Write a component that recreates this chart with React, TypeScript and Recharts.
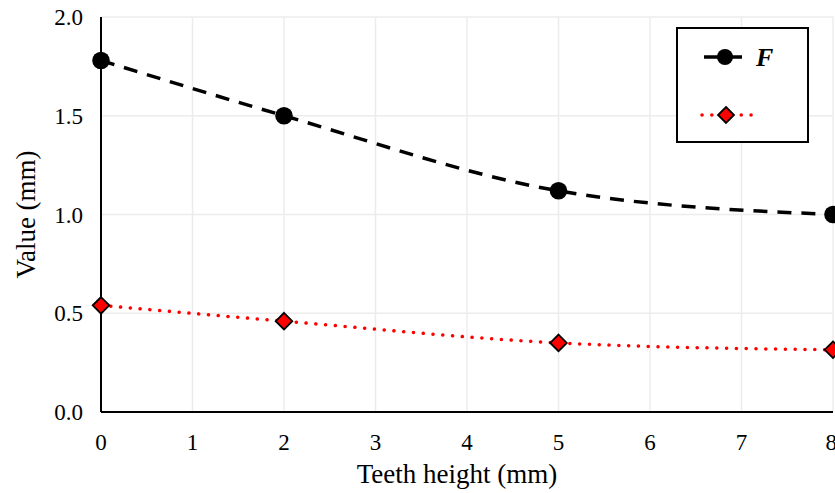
import React from "react";
import { LineChart, Line, XAxis, YAxis, CartesianGrid } from "recharts";

const heights = [0, 2, 5, 8];
const fValues = [1.78, 1.5, 1.12, 1.0];
const secondValues = [0.54, 0.46, 0.35, 0.315];
const xTicks = [0, 1, 2, 3, 4, 5, 6, 7, 8];
const yTicks = [0, 0.5, 1.0, 1.5, 2.0];

const data = heights.map((h, i) => ({ x: h, f: fValues[i], s: secondValues[i] }));

const FONT = "Liberation Serif";
const tickStyle = { fill: "#000", fontSize: 23, style: { fontFamily: FONT, fontSize: 23 } };

const Diamond = (props: any) => {
  const { cx, cy } = props;
  if (cx == null || cy == null) return null;
  const r = 8.3;
  return (
    <polygon
      points={`${cx},${cy - r} ${cx + r},${cy} ${cx},${cy + r} ${cx - r},${cy}`}
      fill="#ff0000"
      stroke="#000"
      strokeWidth={1.8}
    />
  );
};

const Dot = (props: any) => {
  const { cx, cy } = props;
  if (cx == null || cy == null) return null;
  return <circle cx={cx} cy={cy} r={8.8} fill="#000" />;
};

function LegendBox() {
  return (
    <div style={{ position: "absolute", left: 676, top: 27, width: 133, height: 116, border: "2px solid #000", boxSizing: "border-box", background: "#fff" }}>
      <svg width={129} height={112}>
        <line x1={22} y1={28} x2={66} y2={28} stroke="#000" strokeWidth={3.5} strokeDasharray="14 10" strokeDashoffset={-4} />
        <circle cx={47} cy={28} r={8} fill="#000" />
        <text x={78} y={37} style={{ fontFamily: FONT, fontSize: 26, fontStyle: "italic", fontWeight: "bold" }}>F</text>
        <line x1={24} y1={86} x2={76} y2={86} stroke="#ff0000" strokeWidth={3.5} strokeLinecap="round" strokeDasharray="0.1 9.7" />
        <polygon points="48,78 56,86 48,94 40,86" fill="#ff0000" stroke="#000" strokeWidth={1.8} />
      </svg>
    </div>
  );
}

export default function App() {
  return (
    <div style={{ position: "absolute", left: 0, top: 0, width: 835, height: 493, background: "#fff", overflow: "hidden", fontFamily: FONT }}>
      <LineChart width={837} height={493} data={data} margin={{ top: 17, right: 4, left: 0, bottom: 0 }} style={{ fontFamily: FONT }}>
        <CartesianGrid stroke="#ececec" strokeWidth={1.5} verticalValues={xTicks} horizontalValues={yTicks} />
        <XAxis
          type="number"
          dataKey="x"
          domain={[0, 8]}
          ticks={xTicks}
          height={81}
          fontSize={23}
          tickLine={false}
          tickMargin={16}
          axisLine={{ stroke: "#000", strokeWidth: 2 }}
          tick={tickStyle}
          label={{ value: "Teeth height (mm)", position: "insideBottom", offset: 10, dx: -10, fill: "#000", fontSize: 27, style: { fontFamily: FONT } }}
        />
        <XAxis xAxisId="top" orientation="top" type="number" domain={[0, 8]} height={0} tick={false} tickLine={false} axisLine={{ stroke: "#000", strokeWidth: 2 }} />
        <YAxis
          type="number"
          domain={[0, 2]}
          ticks={yTicks}
          width={101}
          fontSize={23}
          tickLine={false}
          tickMargin={12}
          axisLine={{ stroke: "#000", strokeWidth: 2 }}
          tickFormatter={(v: number) => v.toFixed(1)}
          tick={tickStyle}
          label={{ value: "Value (mm)", angle: -90, position: "insideLeft", offset: 25, fill: "#000", fontSize: 27, style: { textAnchor: "middle", fontFamily: FONT } }}
        />
        <YAxis yAxisId="right" orientation="right" type="number" domain={[0, 2]} width={0} tick={false} tickLine={false} axisLine={{ stroke: "#000", strokeWidth: 2 }} />
        <Line
          type="monotone"
          dataKey="f"
          stroke="#000"
          strokeWidth={3.5}
          strokeDasharray="14 10"
          dot={<Dot />}
          activeDot={false}
          isAnimationActive={false}
        />
        <Line
          type="monotone"
          dataKey="s"
          stroke="#ff0000"
          strokeWidth={3.5}
          strokeLinecap="round"
          strokeDasharray="0.1 9.7"
          dot={<Diamond />}
          activeDot={false}
          isAnimationActive={false}
        />
      </LineChart>
      <LegendBox />
    </div>
  );
}
